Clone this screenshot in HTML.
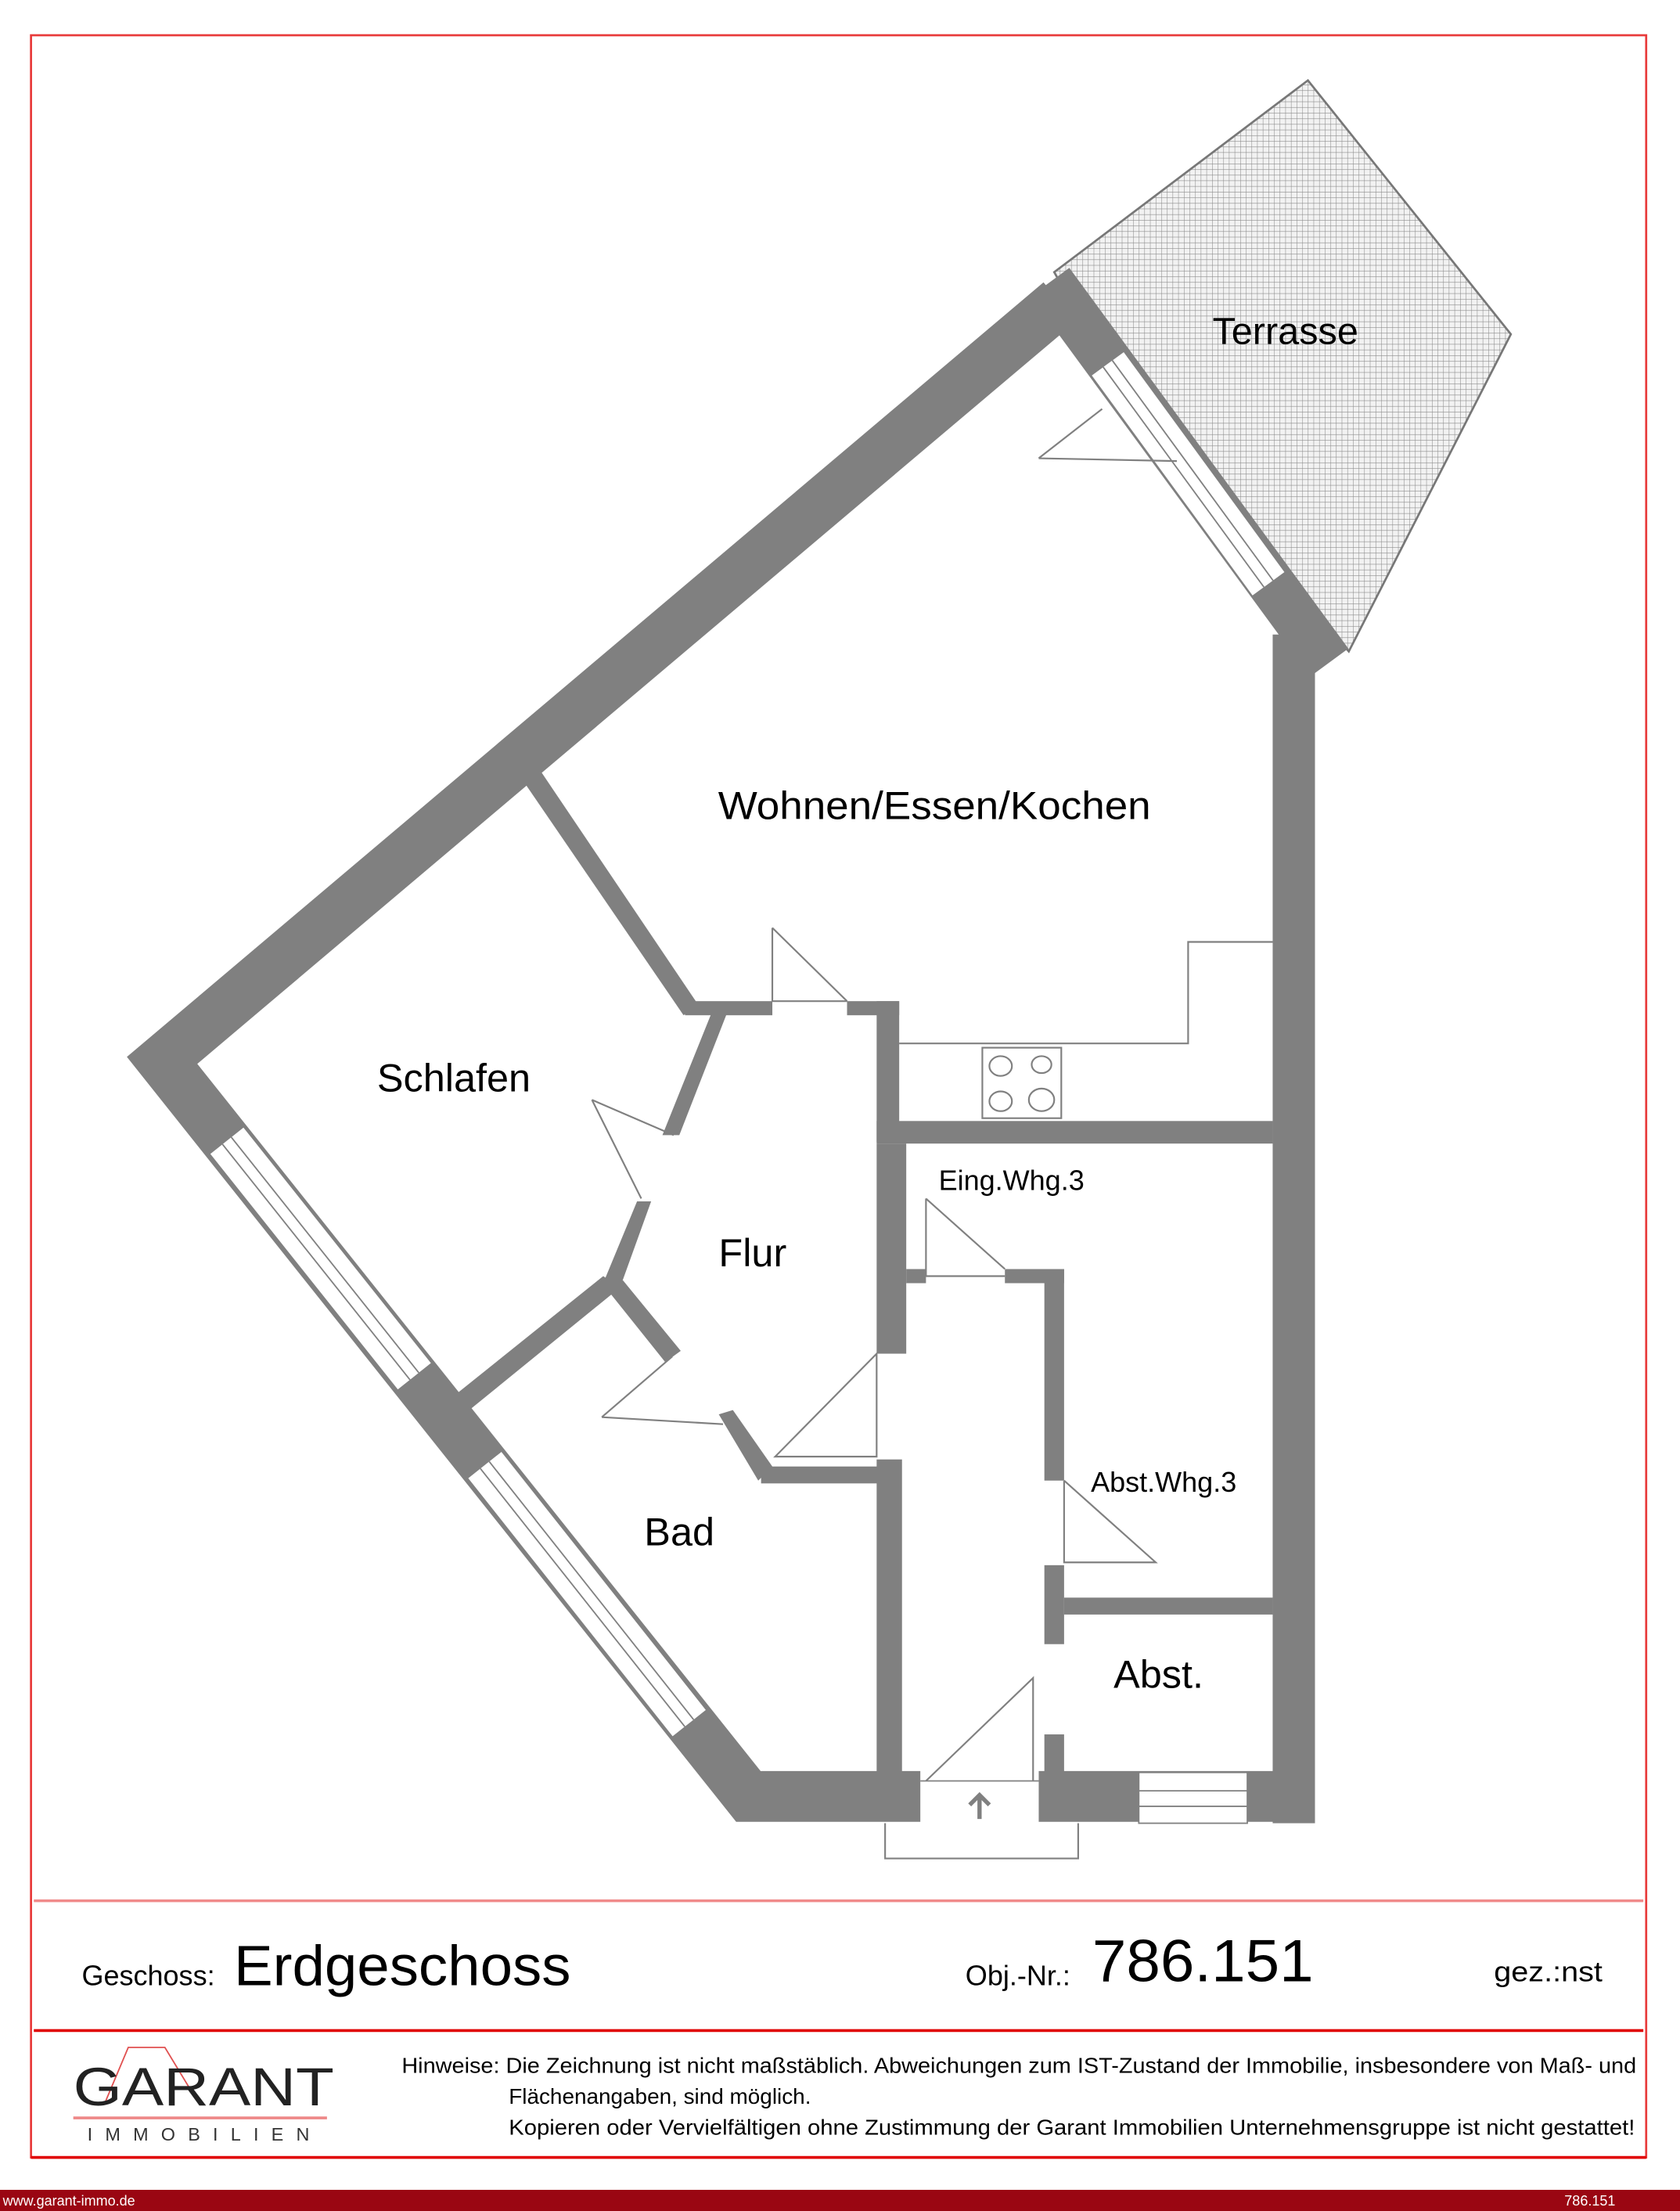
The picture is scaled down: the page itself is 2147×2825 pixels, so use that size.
<!DOCTYPE html>
<html><head><meta charset="utf-8"><style>
html,body{margin:0;padding:0;background:#fff;}
svg{display:block;}
text{font-family:"Liberation Sans",sans-serif;}
</style></head><body>
<svg width="2147" height="2825" viewBox="0 0 1192 1568" preserveAspectRatio="none" xmlns="http://www.w3.org/2000/svg">
<defs>
<pattern id="grid" width="4" height="4" patternUnits="userSpaceOnUse">
<rect width="4" height="4" fill="#f2f2f2"/>
<path d="M0 0H4M0 0V4" stroke="#8a8a8a" stroke-width="0.6"/>
</pattern>
</defs>
<rect width="1192" height="1568" fill="#fff"/>
<rect x="22" y="25" width="1146" height="1505" fill="none" stroke="#e83a3a" stroke-width="1.5"/>
<line x1="24" y1="1348" x2="1166" y2="1348" stroke="#f08a8a" stroke-width="2"/>
<line x1="24" y1="1440" x2="1166" y2="1440" stroke="#e00000" stroke-width="2"/>
<line x1="22" y1="1530" x2="1168" y2="1530" stroke="#e00000" stroke-width="2"/>

<polygon points="748,193 928,57 1072,237 957,462 790,268" fill="url(#grid)" stroke="#777" stroke-width="1.5"/>

<!-- outer shell -->
<path d="M752,214 L115,752 L531,1274 L933,1274" fill="none" stroke="#808080" stroke-width="36" stroke-linejoin="miter"/>
<line x1="745" y1="200" x2="943" y2="470" stroke="#808080" stroke-width="34"/>
<rect x="903" y="450" width="30" height="843" fill="#808080"/>

<g stroke-linecap="butt">
<line x1="161" y1="809" x2="294" y2="976" stroke="#808080" stroke-width="32"/>
<line x1="161" y1="809" x2="294" y2="976" stroke="#fff" stroke-width="30"/>
<line x1="161" y1="809" x2="294" y2="976" stroke="#808080" stroke-width="9"/>
<line x1="161" y1="809" x2="294" y2="976" stroke="#fff" stroke-width="7"/>
<line x1="344" y1="1039" x2="489" y2="1222" stroke="#808080" stroke-width="32"/>
<line x1="344" y1="1039" x2="489" y2="1222" stroke="#fff" stroke-width="30"/>
<line x1="344" y1="1039" x2="489" y2="1222" stroke="#808080" stroke-width="9"/>
<line x1="344" y1="1039" x2="489" y2="1222" stroke="#fff" stroke-width="7"/>
<line x1="786" y1="258" x2="900" y2="414" stroke="#808080" stroke-width="30"/>
<line x1="786" y1="258" x2="900" y2="414" stroke="#fff" stroke-width="28"/>
<line x1="786" y1="258" x2="900" y2="414" stroke="#808080" stroke-width="9"/>
<line x1="786" y1="258" x2="900" y2="414" stroke="#fff" stroke-width="7"/>
</g>
<rect x="808" y="1257" width="77" height="36" fill="#fff" stroke="#808080" stroke-width="1"/>
<line x1="808" y1="1270" x2="885" y2="1270" stroke="#808080"/>
<line x1="808" y1="1281" x2="885" y2="1281" stroke="#808080"/>
<rect x="653" y="1255" width="84" height="39" fill="#fff"/>
<line x1="653" y1="1263" x2="737" y2="1263" stroke="#808080"/>
<polyline points="628,1293 628,1318 765,1318 765,1293" fill="none" stroke="#808080" stroke-width="1.2"/>
<path d="M695,1290 V1273 M688,1280 L695,1273 L702,1280" fill="none" stroke="#808080" stroke-width="3"/>

<g fill="#808080">
<polygon points="370,552 381,543 495,712 485,720"/>
<rect x="486" y="710" width="62" height="10"/>
<rect x="601" y="710" width="37" height="10"/>
<rect x="622" y="710" width="16" height="100"/>
<rect x="622" y="795" width="281" height="16"/>
<rect x="622" y="811" width="21" height="149"/>
<polygon points="505,718 516,718 482,805 470,805"/>
<polygon points="452,852 462,852 440,913 428,910"/>
<polygon points="428,905 440,913 333,1000 322,990"/>
<polygon points="432,916 442,908 483,958 472,966"/>
<polygon points="510,1003 520,1000 548,1040 538,1050"/>
<rect x="540" y="1040" width="95" height="12"/>
<rect x="622" y="1035" width="18" height="240"/>
<rect x="643" y="900" width="14" height="10"/>
<rect x="713" y="900" width="42" height="10"/>
<rect x="741" y="900" width="14" height="150"/>
<rect x="741" y="1110" width="14" height="56"/>
<rect x="755" y="1133" width="148" height="12"/>
<rect x="741" y="1230" width="14" height="30"/>
</g>

<polyline points="638,740 843,740 843,668 903,668" fill="none" stroke="#808080" stroke-width="1.2"/>
<rect x="697" y="743" width="56" height="50" fill="#fff" stroke="#808080" stroke-width="1.2"/>
<g fill="none" stroke="#808080" stroke-width="1.2">
<ellipse cx="710" cy="756" rx="8" ry="7"/><ellipse cx="739" cy="755" rx="7" ry="6"/>
<ellipse cx="710" cy="781" rx="8" ry="7"/><ellipse cx="739" cy="780" rx="9" ry="8"/>
</g>

<g fill="none" stroke="#808080" stroke-width="1.2">
<path d="M737,325 L835,327 M737,325 L782,290"/>
<path d="M548,658 V710 H601 M548,658 L601,710"/>
<path d="M420,780 L455,850 M420,780 L478,805"/>
<path d="M427,1005 L513,1010 M427,1005 L477,962"/>
<path d="M550,1033 H622 V960 Z"/>
<path d="M657,850 V905 H713 M657,850 L713,900"/>
<path d="M755,1050 V1108 H820 L755,1050"/>
<path d="M657,1263 L733,1190 V1263"/>
</g>

<g fill="#000">
<text x="912" y="244" font-size="27" text-anchor="middle">Terrasse</text>
<text x="663" y="581" font-size="28" text-anchor="middle" textLength="307" lengthAdjust="spacingAndGlyphs">Wohnen/Essen/Kochen</text>
<text x="322" y="774" font-size="28" text-anchor="middle">Schlafen</text>
<text x="534" y="898" font-size="28" text-anchor="middle">Flur</text>
<text x="482" y="1096" font-size="28" text-anchor="middle">Bad</text>
<text x="822" y="1197" font-size="28" text-anchor="middle">Abst.</text>
<text x="666" y="844" font-size="20">Eing.Whg.3</text>
<text x="774" y="1058" font-size="20">Abst.Whg.3</text>
<text x="58" y="1408" font-size="20">Geschoss:</text>
<text x="166" y="1408" font-size="40" textLength="239" lengthAdjust="spacingAndGlyphs">Erdgeschoss</text>
<text x="685" y="1408" font-size="20">Obj.-Nr.:</text>
<text x="775" y="1405" font-size="42" textLength="157" lengthAdjust="spacingAndGlyphs">786.151</text>
<text x="1060" y="1405" font-size="20" textLength="77" lengthAdjust="spacingAndGlyphs">gez.:nst</text>
<text x="285" y="1470" font-size="15.5" textLength="876" lengthAdjust="spacingAndGlyphs">Hinweise: Die Zeichnung ist nicht maßstäblich. Abweichungen zum IST-Zustand der Immobilie, insbesondere von Maß- und</text>
<text x="361" y="1492" font-size="15.5">Flächenangaben, sind möglich.</text>
<text x="361" y="1514" font-size="15.5" textLength="799" lengthAdjust="spacingAndGlyphs">Kopieren oder Vervielfältigen ohne Zustimmung der Garant Immobilien Unternehmensgruppe ist nicht gestattet!</text>
</g>
<path d="M75,1490 L91,1452 L117,1452 L140,1490" fill="none" stroke="#e05050" stroke-width="1"/>
<text x="52" y="1493" font-family="Liberation Serif,serif" font-size="38" textLength="185" lengthAdjust="spacingAndGlyphs" fill="#222">GARANT</text>
<line x1="52" y1="1502" x2="232" y2="1502" stroke="#e88" stroke-width="2"/>
<text x="62" y="1518" font-size="13" letter-spacing="9" fill="#333">IMMOBILIEN</text>

<rect x="0" y="1553" width="1192" height="15" fill="#9a0612"/>
<text x="2" y="1564" font-size="10" fill="#fff">www.garant-immo.de</text>
<text x="1110" y="1564" font-size="10" fill="#fff">786.151</text>
</svg>
</body></html>
